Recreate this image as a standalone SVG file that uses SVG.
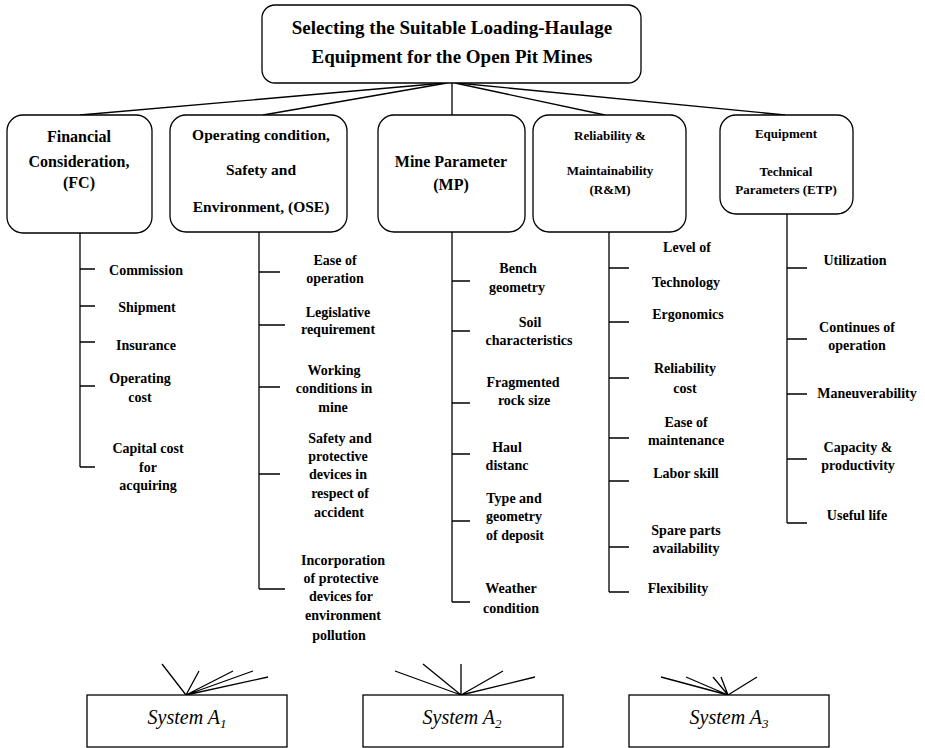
<svg xmlns="http://www.w3.org/2000/svg" width="925" height="748" viewBox="0 0 925 748">
<style>
.box{fill:#fff;stroke:#000;stroke-width:1.3}
.ln{stroke:#000;stroke-width:1.3;fill:none}
text{font-family:"Liberation Serif","Times New Roman",serif;font-weight:bold;fill:#000;text-anchor:middle}
.t19{font-size:19px}.t16{font-size:16px}.t15{font-size:15.5px}.t14{font-size:14px}.t13{font-size:13px}
.sys{font-weight:normal;font-style:italic;font-size:20px}
</style>
<rect width="925" height="748" fill="#fff"/>
<g id="connectors" class="ln">
<line x1="445" y1="83" x2="80" y2="115"/>
<line x1="447" y1="83" x2="263" y2="115"/>
<line x1="452" y1="83" x2="452" y2="115"/>
<line x1="455" y1="83" x2="605" y2="115"/>
<line x1="457" y1="83" x2="785" y2="115"/>
<path d="M80 233V467M80 269H95M80 306H95M80 342H95M80 386H95M80 467H95"/>
<path d="M259 232V589M259 272H280M259 325H285M259 387H280M259 474H280M259 589H285"/>
<path d="M452 232V602M452 281H470M452 331H470M452 403H470M452 454H470M452 521H470M452 602H470"/>
<path d="M609 232V592M609 268H629M609 322H629M609 378H629M609 438H629M609 481H629M609 547H629M609 592H629"/>
<path d="M787 214V523M787 268H807M787 339H807M787 394H807M787 459H807M787 523H807"/>
<path d="M186 695L162 664M186 695L199 671M186 695L233 671M186 695L253 671M186 695L268 677"/>
<path d="M461 695L395 671M461 695L423 664M461 695L461 664M461 695L503 671M461 695L535 677"/>
<path d="M728 695L661 677M728 695L686 677M728 695L713 677M728 695L721 677M728 695L757 677"/>
</g>
<g id="root">
<rect class="box" x="262" y="5" width="379" height="78" rx="13"/>
<text class="t19" x="452" y="34">Selecting the Suitable Loading-Haulage</text>
<text class="t19" x="452" y="63">Equipment for the Open Pit Mines</text>
</g>
<g id="fc">
<rect class="box" x="7" y="115" width="145" height="118" rx="16"/>
<text class="t16" x="79" y="142">Financial</text>
<text class="t16" x="79" y="167">Consideration,</text>
<text class="t16" x="79" y="188">(FC)</text>
</g>
<g id="ose">
<rect class="box" x="170" y="115" width="177" height="117" rx="16"/>
<text class="t15" x="261" y="140">Operating condition,</text>
<text class="t15" x="261" y="175">Safety and</text>
<text class="t15" x="261" y="212">Environment, (OSE)</text>
</g>
<g id="mp">
<rect class="box" x="378" y="115" width="147" height="117" rx="16"/>
<text class="t16" x="451" y="167">Mine Parameter</text>
<text class="t16" x="451" y="190">(MP)</text>
</g>
<g id="rm">
<rect class="box" x="533" y="115" width="153" height="117" rx="16"/>
<text class="t13" x="610" y="140">Reliability &amp;</text>
<text class="t13" x="610" y="175">Maintainability</text>
<text class="t13" x="610" y="194">(R&amp;M)</text>
</g>
<g id="etp">
<rect class="box" x="720" y="115" width="133" height="99" rx="16"/>
<text class="t13" x="786" y="138">Equipment</text>
<text class="t13" x="786" y="176">Technical</text>
<text class="t13" x="786" y="194">Parameters (ETP)</text>
</g>
<g id="fc-items" class="t14">
<text x="146" y="275">Commission</text>
<text x="147" y="312">Shipment</text>
<text x="146" y="350">Insurance</text>
<text x="140" y="383">Operating</text>
<text x="140" y="402">cost</text>
<text x="148" y="453">Capital cost</text>
<text x="148" y="472">for</text>
<text x="148" y="490">acquiring</text>
</g>
<g id="ose-items" class="t14">
<text x="335" y="265">Ease of</text>
<text x="335" y="283">operation</text>
<text x="338" y="317">Legislative</text>
<text x="338" y="334">requirement</text>
<text x="334" y="375">Working</text>
<text x="334" y="393">conditions in</text>
<text x="333" y="412">mine</text>
<text x="340" y="443">Safety and</text>
<text x="338" y="461">protective</text>
<text x="338" y="479">devices in</text>
<text x="340" y="498">respect of</text>
<text x="339" y="517">accident</text>
<text x="343" y="565">Incorporation</text>
<text x="341" y="583">of protective</text>
<text x="341" y="601">devices for</text>
<text x="343" y="620">environment</text>
<text x="339" y="640">pollution</text>
</g>
<g id="mp-items" class="t14">
<text x="518" y="273">Bench</text>
<text x="517" y="292">geometry</text>
<text x="530" y="327">Soil</text>
<text x="529" y="345">characteristics</text>
<text x="523" y="387">Fragmented</text>
<text x="524" y="405">rock size</text>
<text x="507" y="452">Haul</text>
<text x="507" y="470">distanc</text>
<text x="514" y="503">Type and</text>
<text x="514" y="521">geometry</text>
<text x="515" y="540">of deposit</text>
<text x="511" y="593">Weather</text>
<text x="511" y="613">condition</text>
</g>
<g id="rm-items" class="t14">
<text x="687" y="252">Level of</text>
<text x="686" y="287">Technology</text>
<text x="688" y="319">Ergonomics</text>
<text x="685" y="373">Reliability</text>
<text x="685" y="393">cost</text>
<text x="686" y="427">Ease of</text>
<text x="686" y="445">maintenance</text>
<text x="686" y="478">Labor skill</text>
<text x="686" y="535">Spare parts</text>
<text x="686" y="553">availability</text>
<text x="678" y="593">Flexibility</text>
</g>
<g id="etp-items" class="t14">
<text x="855" y="265">Utilization</text>
<text x="857" y="332">Continues of</text>
<text x="857" y="350">operation</text>
<text x="867" y="398">Maneuverability</text>
<text x="858" y="452">Capacity &amp;</text>
<text x="858" y="470">productivity</text>
<text x="857" y="520">Useful life</text>
</g>
<g id="system-a1">
<rect class="box" x="87" y="695" width="200" height="52"/>
<text class="sys" x="187" y="724">System A<tspan font-size="13" dy="4">1</tspan></text>
</g>
<g id="system-a2">
<rect class="box" x="363" y="695" width="200" height="52"/>
<text class="sys" x="462" y="724">System A<tspan font-size="13" dy="4">2</tspan></text>
</g>
<g id="system-a3">
<rect class="box" x="629" y="695" width="200" height="52"/>
<text class="sys" x="729" y="724">System A<tspan font-size="13" dy="4">3</tspan></text>
</g>
</svg>
